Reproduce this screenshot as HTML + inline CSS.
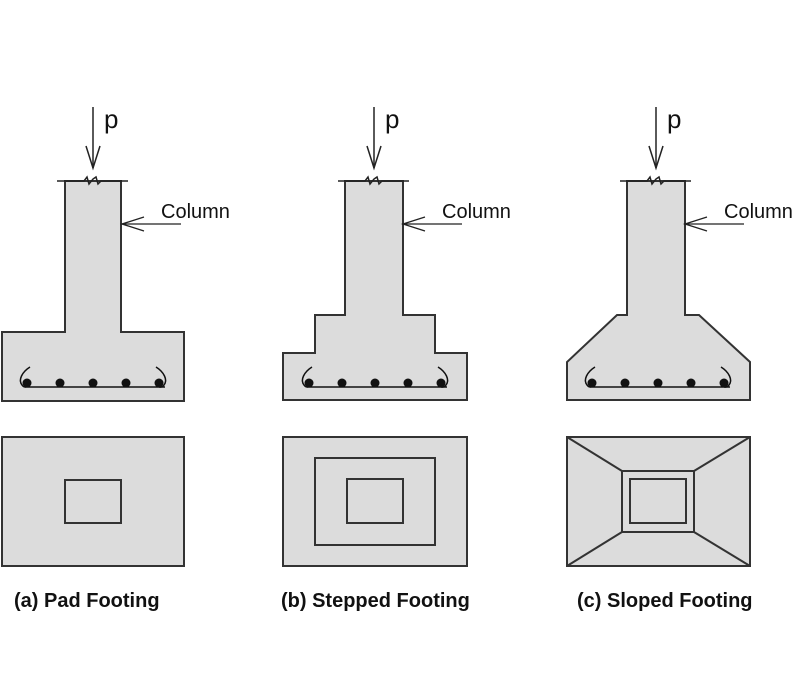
<!DOCTYPE html>
<html><head><style>body{margin:0;background:#fff}svg{display:block}</style></head><body>
<svg width="800" height="700" viewBox="0 0 800 700" xmlns="http://www.w3.org/2000/svg">
<defs>
<g id="top">
  <line x1="93" y1="107" x2="93" y2="168" stroke="#222" stroke-width="1.5"/>
  <polyline points="86,146 93,168 100,146" fill="none" stroke="#222" stroke-width="1.5"/>
  <text x="104" y="128" font-family="Liberation Sans, sans-serif" font-size="26" fill="#111">p</text>
  <polyline points="57,181 84,181 87,177 89,184 93,179 96,177 98,184 101,181 128,181" fill="none" stroke="#222" stroke-width="1.5"/>
  <line x1="121" y1="224" x2="181" y2="224" stroke="#222" stroke-width="1.3"/>
  <polyline points="144,217 122,224 144,231" fill="none" stroke="#222" stroke-width="1.3"/>
  <text x="161" y="218" font-family="Liberation Sans, sans-serif" font-size="20" fill="#111">Column</text>
</g>
<g id="bars">
  <line x1="27" y1="387" x2="165" y2="387" stroke="#111" stroke-width="1.5"/>
  <path d="M30,367 C22,372 18,380 22,385 C24,388 26,387 27,387" fill="none" stroke="#111" stroke-width="1.5"/>
  <path d="M156,367 C164,372 168,380 164,385 C162,388 160,387 159,387" fill="none" stroke="#111" stroke-width="1.5"/>
  <circle cx="27" cy="383" r="4.5" fill="#111"/><circle cx="60" cy="383" r="4.5" fill="#111"/>
  <circle cx="93" cy="383" r="4.5" fill="#111"/><circle cx="126" cy="383" r="4.5" fill="#111"/>
  <circle cx="159" cy="383" r="4.5" fill="#111"/>
</g>
</defs>
<g fill="#dcdcdc" stroke="#333" stroke-width="2">
  <polygon points="65,181 121,181 121,332 184,332 184,401 2,401 2,332 65,332"/>
  <rect x="2" y="437" width="182" height="129"/>
  <rect x="65" y="480" width="56" height="43" fill="none"/>

  <polygon points="345,181 403,181 403,315 435,315 435,353 467,353 467,400 283,400 283,353 315,353 315,315 345,315"/>
  <rect x="283" y="437" width="184" height="129"/>
  <rect x="315" y="458" width="120" height="87" fill="none"/>
  <rect x="347" y="479" width="56" height="44" fill="none"/>

  <polygon points="627,181 685,181 685,315 699,315 750,362 750,400 567,400 567,362 617,315 627,315"/>
  <rect x="567" y="437" width="183" height="129"/>
  <rect x="622" y="471" width="72" height="61" fill="none"/>
  <rect x="630" y="479" width="56" height="44" fill="none"/>
  <line x1="567" y1="437" x2="622" y2="471"/><line x1="750" y1="437" x2="694" y2="471"/>
  <line x1="567" y1="566" x2="622" y2="532"/><line x1="750" y1="566" x2="694" y2="532"/>
</g>
<use href="#top"/><use href="#top" transform="translate(281,0)"/><use href="#top" transform="translate(563,0)"/>
<use href="#bars"/><use href="#bars" transform="translate(282,0)"/><use href="#bars" transform="translate(565,0)"/>
<g font-family="Liberation Sans, sans-serif" font-size="20" font-weight="bold" fill="#111">
  <text x="14" y="607">(a) Pad Footing</text>
  <text x="281" y="607">(b) Stepped Footing</text>
  <text x="577" y="607">(c) Sloped Footing</text>
</g>
</svg>
</body></html>
